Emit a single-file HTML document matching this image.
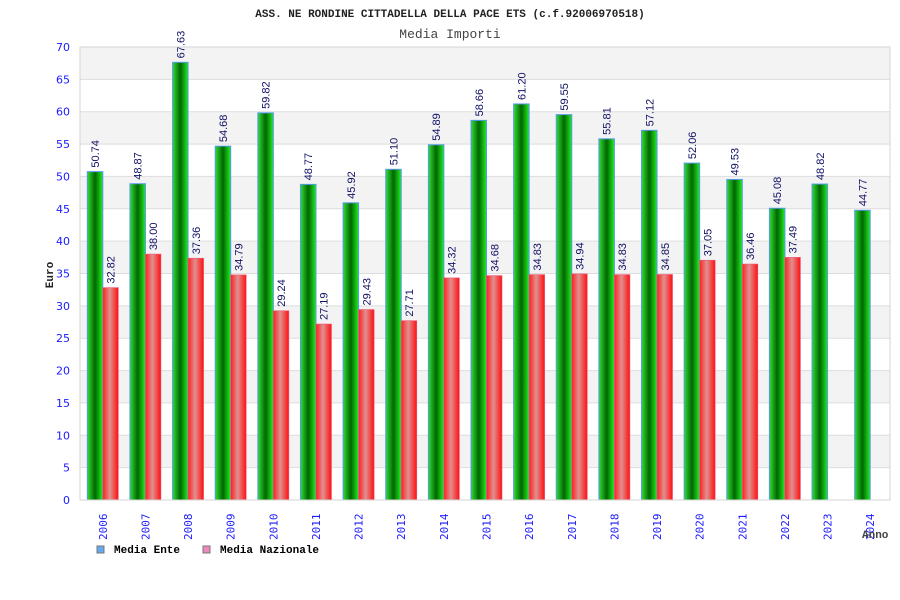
<!DOCTYPE html>
<html><head><meta charset="utf-8"><style>
body{margin:0;background:#fff;width:900px;height:600px;overflow:hidden}
svg{display:block}
</style></head><body>
<svg id="chart" width="900" height="600" xmlns="http://www.w3.org/2000/svg">
<defs>
<linearGradient id="gGreen" x1="0" x2="1" y1="0" y2="0">
<stop offset="0" stop-color="#33dd33"/><stop offset="0.5" stop-color="#006600"/><stop offset="1" stop-color="#22ee22"/>
</linearGradient>
<linearGradient id="gRed" x1="0" x2="1" y1="0" y2="0">
<stop offset="0" stop-color="#ff2020"/><stop offset="0.45" stop-color="#e09090"/><stop offset="1" stop-color="#ff1010"/>
</linearGradient>
</defs>
<text x="450" y="17" text-anchor="middle" font-family="Liberation Mono, monospace" font-size="11" font-weight="bold" fill="#222">ASS. NE RONDINE CITTADELLA DELLA PACE ETS (c.f.92006970518)</text>
<text x="450" y="38" text-anchor="middle" font-family="Liberation Mono, monospace" font-size="13" fill="#444">Media Importi</text>
<g id="grid"></g>
<g id="bars"></g>
<g id="axes"></g>
<text x="53" y="275" transform="rotate(-90 53 275)" text-anchor="middle" font-family="Liberation Mono, monospace" font-size="11" font-weight="bold" fill="#222">Euro</text>
<text x="862" y="538" font-family="Liberation Mono, monospace" font-size="11" font-weight="bold" fill="#444">Anno</text>
<g>
<rect x="97" y="546" width="7" height="7" fill="#66aaee" stroke="#777"/>
<text x="114" y="553" font-family="Liberation Mono, monospace" font-size="11" font-weight="bold" fill="#000">Media Ente</text>
<rect x="203" y="546" width="7" height="7" fill="#ee88bb" stroke="#777"/>
<text x="220" y="553" font-family="Liberation Mono, monospace" font-size="11" font-weight="bold" fill="#000">Media Nazionale</text>
</g>
</svg>
<script>
const years = ["2006","2007","2008","2009","2010","2011","2012","2013","2014","2015","2016","2017","2018","2019","2020","2021","2022","2023","2024"];
const ente = [50.74,48.87,67.63,54.68,59.82,48.77,45.92,51.10,54.89,58.66,61.20,59.55,55.81,57.12,52.06,49.53,45.08,48.82,44.77];
const nazionale = [32.82,38.00,37.36,34.79,29.24,27.19,29.43,27.71,34.32,34.68,34.83,34.94,34.83,34.85,37.05,36.46,37.49,null,null];
const yTicks = [0,5,10,15,20,25,30,35,40,45,50,55,60,65,70];

const NS="http://www.w3.org/2000/svg";
const L=80,R=890,T=47,B=500,yMax=70;
const y=v=>B-(v/yMax)*(B-T);
const cw=(R-L)/years.length;
const xc=i=>L+cw*i+cw/2+1.5;
const bw=15.5;
function mk(tag,attrs,parent,txt){const e=document.createElementNS(NS,tag);for(const k in attrs)e.setAttribute(k,attrs[k]);if(txt!=null)e.textContent=txt;parent.appendChild(e);return e;}
const grid=document.getElementById('grid'),bars=document.getElementById('bars'),axes=document.getElementById('axes');
for(let i=0;i<yTicks.length-1;i++){
  const a=yTicks[i],b=yTicks[i+1];
  const r=mk('rect',{x:L,y:y(b),width:R-L,height:y(a)-y(b),fill:(i%2===1)?'#f3f3f3':'#ffffff'},grid);
  
  
}
yTicks.forEach(t=>{
  const l=mk('line',{x1:L,x2:R,y1:y(t),y2:y(t),stroke:'#dddddd','stroke-width':1},grid);
  
  
  const tx=mk('text',{x:L-10,y:y(t)+4,'text-anchor':'end','font-family':'DejaVu Sans, sans-serif','font-size':11,fill:'#1a1aff'},axes,String(t));
  
  
});
const fr=mk('rect',{x:L,y:T,width:R-L,height:B-T,fill:'none',stroke:'#d4d4d4'},axes);


function label(x,yy,v){
  const t=mk('text',{x:0,y:0,transform:`translate(${x+4},${yy-4}) rotate(-90)`,'font-family':'Liberation Sans, sans-serif','font-size':11,fill:'#111166'},bars,v.toFixed(2));
  
  
}
years.forEach((yr,i)=>{
  const c=xc(i);
  const v=ente[i];
  const g=mk('rect',{x:c-bw,y:y(v),width:bw,height:B-y(v),fill:'url(#gGreen)',stroke:'#5599ee','stroke-width':1},bars);
  
  
  label(c-bw/2,y(v),v);
  const n=nazionale[i];
  if(n!=null){
    const r=mk('rect',{x:c,y:y(n),width:bw,height:B-y(n),fill:'url(#gRed)',stroke:'#ee5577','stroke-width':0.6},bars);
    
    
    label(c+bw/2,y(n),n);
  }
  const xt=mk('text',{x:0,y:0,transform:`translate(${c+4},${B+40}) rotate(-90)`,'font-family':'DejaVu Sans Mono, monospace','font-size':11,fill:'#1a1aff'},axes,yr);
  
  
});
</script>
</body></html>
